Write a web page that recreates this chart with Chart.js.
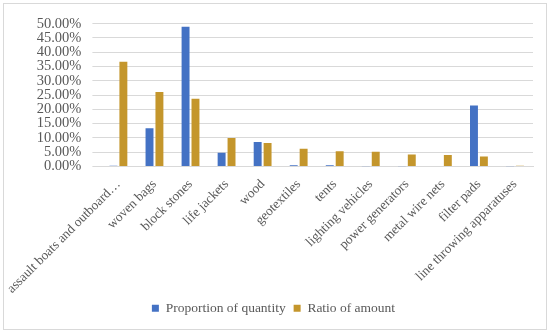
<!DOCTYPE html>
<html>
<head>
<meta charset="utf-8">
<script src="https://cdn.jsdelivr.net/npm/chart.js@4/dist/chart.umd.min.js"></script>
<style>
  html, body { margin: 0; padding: 0; background: #fff; }
  #wrap { position: absolute; left: 3px; top: 3px; width: 542px; height: 325px; border: 1px solid #d9d9d9; }
</style>
</head>
<body>
<div id="wrap"><canvas id="myChart"></canvas></div>
<script>
const categories = ['assault boats and outboard…', 'woven bags', 'block stones', 'life jackets', 'wood',
  'geotextiles', 'tents', 'lighting vehicles', 'power generators', 'metal wire nets', 'filter pads',
  'line throwing apparatuses'];
const quantityShare = [0.3, 13.4, 48.9, 4.8, 8.6, 0.4, 0.4, 0.1, 0.1, 0.2, 21.4, 0.1];
const amountShare = [36.7, 26.1, 23.7, 10.0, 8.2, 6.2, 5.3, 5.2, 4.2, 4.0, 3.5, 0.3];

Chart.defaults.font.family = '"Liberation Serif", "Times New Roman", serif';
Chart.defaults.color = '#595959';

createShareChart();

function createShareChart(){
  const data = {
    labels: categories,
    datasets: [
      {
        label: 'Proportion of quantity',
        data: quantityShare,
        backgroundColor: '#4472C4',
        barPercentage: 0.8,
        categoryPercentage: 0.55
      },
      {
        label: 'Ratio of amount',
        data: amountShare,
        backgroundColor: '#C4962C',
        barPercentage: 0.8,
        categoryPercentage: 0.55
      }
    ]
  };

  const config = {
    type: 'bar',
    data: data,
    options: {
      responsive: true,
      maintainAspectRatio: false,
      animation: false,
      layout: { padding: { top: 0, right: 13, left: 10, bottom: 4 } },
      plugins: {
        legend: {
          position: 'bottom',
          labels: { boxWidth: 7, boxHeight: 7, font: { size: 13.5 }, padding: 8 }
        },
        tooltip: { enabled: false }
      },
      scales: {
        x: {
          grid: { display: false },
          border: { color: '#d9d9d9' },
          ticks: { minRotation: 45, maxRotation: 45, autoSkip: false, padding: 2, font: { size: 13.3 } },
          // labels may hang below; keep the plot as tall as the original
          afterFit: (scale) => { scale.height = 127; }
        },
        y: {
          min: 0,
          max: 50,
          ticks: {
            stepSize: 5,
            autoSkip: false,
            padding: 11,
            font: { size: 14.5 },
            callback: (v) => v.toFixed(2) + '%'
          },
          grid: { color: '#d9d9d9' },
          border: { display: false }
        }
      }
    }
  };

  new Chart(document.getElementById('myChart'), config);
}
</script>
</body>
</html>
